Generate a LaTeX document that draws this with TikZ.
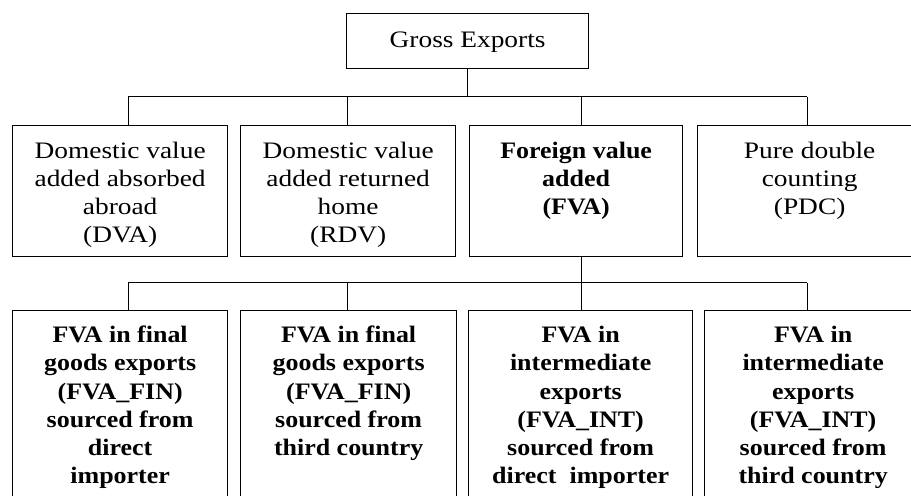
\documentclass[tikz,border=0pt]{standalone}
\usepackage{fontspec}
\setmainfont{Liberation Serif}[FakeStretch=1.16,BoldFeatures={FakeStretch=1.1}]
\newcommand\bxc[4]{\parbox[c][#2][t]{#1}{\centering\rule{0pt}{#3}#4\par}}
\begin{document}
\begin{tikzpicture}[x=0.5pt,y=-0.5pt,
  box/.style={draw=black,line width=0.65pt,inner sep=0pt,anchor=north west,
    font=\fontsize{11.8}{14.1}\selectfont},
  conn/.style={draw=black,line width=0.5pt}]
\useasboundingbox (0,0) rectangle (911,496);
\fill[white] (0,0) rectangle (911,496);
\clip (0,0) rectangle (911,496);

% top
\node[box] (ge) at (346,13) {\bxc{121pt}{27.5pt}{17pt}{Gross Exports}};

% level 2
\node[box] (dva) at (12,125) {\bxc{107.5pt}{65.5pt}{16.3pt}{Domestic value\\added absorbed\\abroad\\(DVA)}};
\node[box] (rdv) at (240,125) {\bxc{107.5pt}{65.5pt}{16.3pt}{Domestic value\\added returned\\home\\(RDV)}};
\node[box] (fva) at (469,125) {\bxc{106.5pt}{65.5pt}{16.3pt}{\bfseries Foreign value\\added\\(FVA)}};
\node[box] (pdc) at (697,125) {\bxc{112pt}{65.5pt}{16.3pt}{Pure double\\counting\\(PDC)}};

% level 3
\node[box] (f1) at (12,310) {\bxc{107.5pt}{105pt}{16pt}{\bfseries FVA in final\\goods exports\\ (FVA\_FIN)\\sourced from\\direct\\importer}};
\node[box] (f2) at (240,310) {\bxc{108pt}{105pt}{16pt}{\bfseries FVA in final\\goods exports\\ (FVA\_FIN)\\sourced from\\third country}};
\node[box] (f3) at (468,310) {\bxc{112pt}{105pt}{16pt}{\bfseries FVA in\\intermediate\\exports\\(FVA\_INT)\\sourced from\\direct\ \ importer}};
\node[box] (f4) at (704,310) {\bxc{108.5pt}{105pt}{16pt}{\bfseries FVA in\\intermediate\\exports\\(FVA\_INT)\\sourced from\\third country}};

% bus 1
\coordinate (a1) at (128,97);
\coordinate (a2) at (347,97);
\coordinate (a3) at (581,97);
\coordinate (a4) at (807,97);
\draw[conn] (ge.south) -- (ge.south |- a1);
\draw[conn] (a1) -- (a4);
\draw[conn] (a1) -- (a1 |- dva.north);
\draw[conn] (a2) -- (a2 |- rdv.north);
\draw[conn] (a3) -- (a3 |- fva.north);
\draw[conn] (a4) -- (a4 |- pdc.north);

% bus 2
\coordinate (b1) at (128,283);
\coordinate (b2) at (347,283);
\coordinate (b3) at (581,283);
\coordinate (b4) at (807,283);
\draw[conn] (b3 |- fva.south) -- (b3);
\draw[conn] (b1) -- (b4);
\draw[conn] (b1) -- (b1 |- f1.north);
\draw[conn] (b2) -- (b2 |- f2.north);
\draw[conn] (b3) -- (b3 |- f3.north);
\draw[conn] (b4) -- (b4 |- f4.north);
\end{tikzpicture}
\end{document}
